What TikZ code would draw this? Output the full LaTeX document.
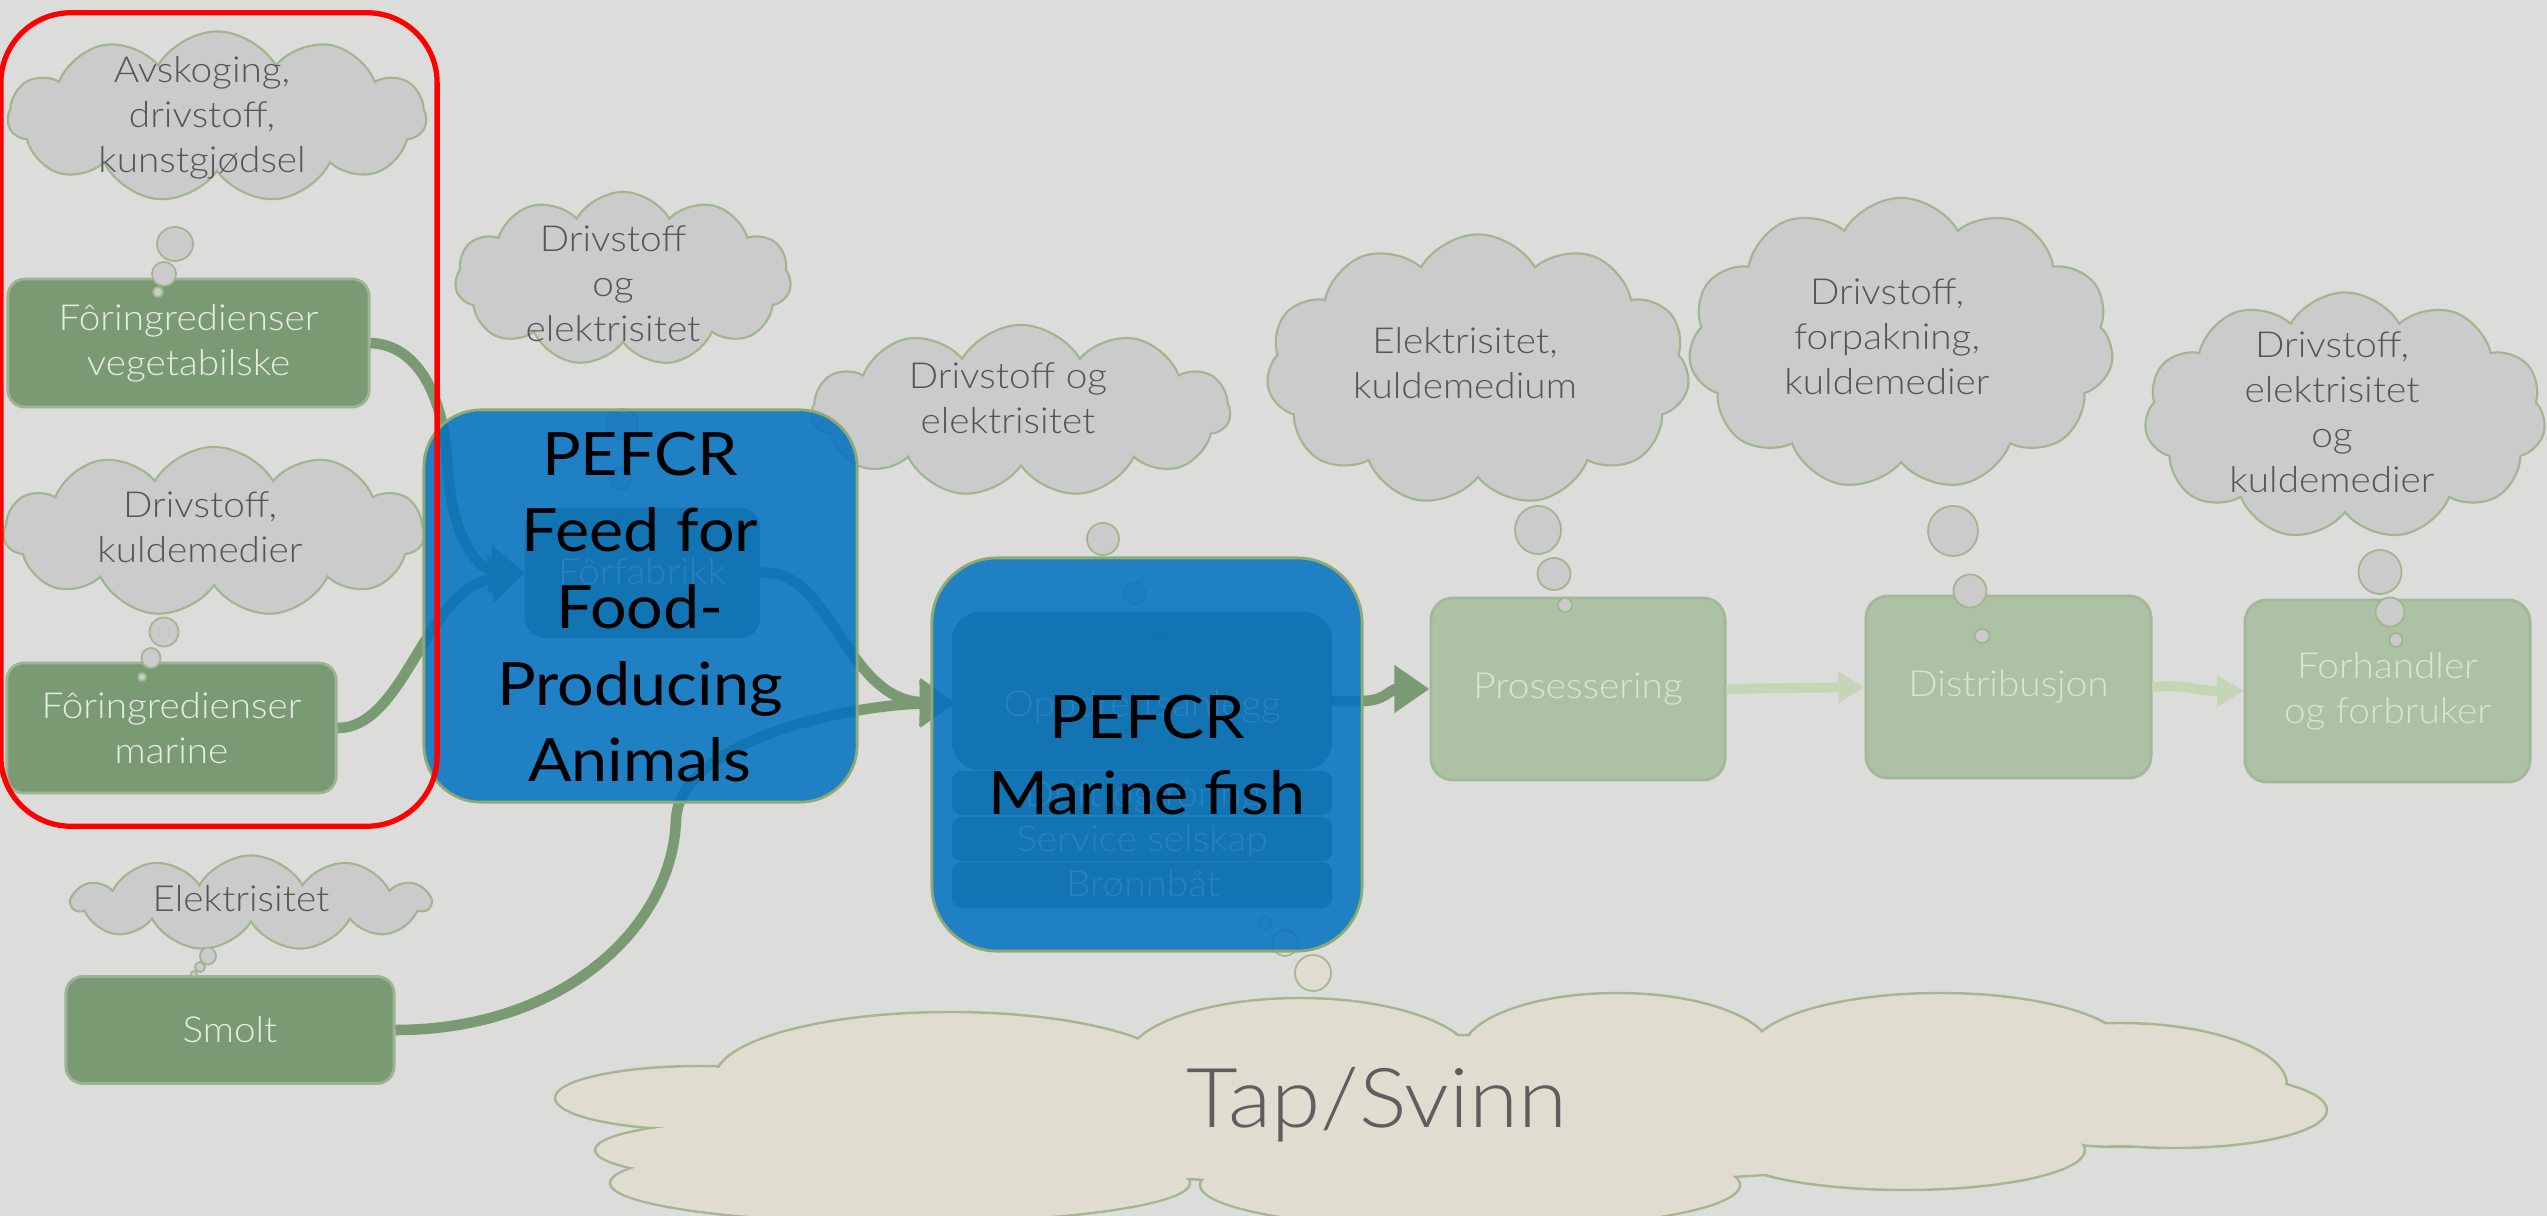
\documentclass[tikz,border=0pt]{standalone}
\usepackage{fontspec}
\setmainfont{Lato}[FakeStretch=1.08,UprightFont={* Light}]
\newfontfamily\pefcrfam{Lato}[FakeStretch=1.08]
\usetikzlibrary{shapes.symbols,shapes.geometric,arrows.meta}
\definecolor{bgc}{HTML}{DCDCDA}
\definecolor{cloudfill}{HTML}{CBCBCB}
\definecolor{cloudline}{HTML}{A0B68E}
\definecolor{ctxt}{HTML}{555555}
\definecolor{gfill}{HTML}{7A9A74}
\definecolor{gline}{HTML}{9DB394}
\definecolor{gtxt}{HTML}{E6ECE3}
\definecolor{ffill}{HTML}{ADC2A5}
\definecolor{fline}{HTML}{A2B898}
\definecolor{ftxt}{HTML}{DAE4D5}
\definecolor{lgreen}{HTML}{C4D6B6}
\definecolor{bfill}{HTML}{0070C1}
\definecolor{bline}{HTML}{8EA971}
\definecolor{rowfill}{HTML}{1072B1}
\definecolor{faint}{HTML}{2B80C2}
\definecolor{tapfill}{HTML}{E1DCD0}
\definecolor{tapline}{HTML}{A5B690}
\definecolor{taptxt}{HTML}{5E5E5E}
\newcommand\cldfont{\fontsize{10.2pt}{12.8pt}\selectfont}
\newcommand\pefcrfont{\pefcrfam\fontsize{17pt}{21.8pt}\selectfont}
\newcommand\tapfont{\fontsize{23.5pt}{28pt}\selectfont}
\begin{document}
\begin{tikzpicture}[x=0.01cm,y=-0.01cm,
  cloudsty/.style={cloud, cloud puffs=11, cloud puff arc=120, cloud ignores aspect, draw=cloudline, fill=cloudfill, line width=0.6pt, inner sep=0pt},
  bub/.style={ellipse, draw=cloudline, fill=cloudfill, line width=0.5pt, inner sep=0pt},
  ctext/.style={text=ctxt, font=\cldfont, align=center, inner sep=0pt},
  gbox/.style={rectangle, rounded corners=0.17cm, draw=gline, fill=gfill, line width=0.8pt, text=gtxt, font=\cldfont, align=center, inner sep=0pt},
  fbox/.style={gbox, draw=fline, fill=ffill, text=ftxt, rounded corners=0.22cm},
  conn/.style={draw=gfill, line width=3pt, -{Triangle[length=10pt,width=13pt]}},
  lconn/.style={draw=lgreen, line width=2.8pt, -{Triangle[length=7.5pt,width=8.5pt]}},
  bbox/.style={rectangle, draw=bline, fill=bfill, fill opacity=0.85, line width=0.8pt, inner sep=0pt},
  rowbox/.style={rectangle, fill=rowfill, fill opacity=0.85, inner sep=0pt, rounded corners=0.1cm},
  ftext/.style={text=faint, font=\cldfont, inner sep=0pt},
  ptext/.style={text=black, font=\pefcrfont, align=center, inner sep=0pt},
  tapbub/.style={ellipse, draw=tapline, fill=tapfill, line width=0.5pt, inner sep=0pt},
  redframe/.style={rectangle, draw=red, line width=1.5pt, rounded corners=0.7cm, inner sep=0pt}
]
\useasboundingbox (0,0) rectangle (2547,1216);
\begin{scope}
\clip (0,0) rectangle (2547,1216);
\fill[bgc] (0,0) rectangle (2547,1216);

% ---------- boxes ----------
\node[gbox, minimum width=3.61cm, minimum height=1.28cm] (veg) at (188.5,343) {Fôringredienser\\vegetabilske};
\node[gbox, minimum width=3.29cm, minimum height=1.30cm] (ming) at (171.5,728) {Fôringredienser\\marine};
\node[gbox, minimum width=3.28cm, minimum height=1.07cm] (smolt) at (230,1030) {Smolt};
\node[fbox, minimum width=2.94cm, minimum height=1.82cm] (proc) at (1578,689) {Prosessering};
\node[fbox, minimum width=2.85cm, minimum height=1.82cm] (dist) at (2008.5,687) {Distribusjon};
\node[fbox, minimum width=2.85cm, minimum height=1.82cm] (forh) at (2387.5,691) {Forhandler\\og forbruker};

\coordinate (forfabW) at (525,573);
\coordinate (forfabE) at (760,573);
\coordinate (mfin) at (955,703);
\coordinate (mfout) at (1330,701);

% ---------- connectors ----------
\draw[conn] (veg.east) .. controls (420,345) and (445,400) .. (448,470)
  .. controls (451,530) and (475,568) .. (forfabW);
\draw[conn] (ming.east) .. controls (405,728) and (425,590) .. (forfabW);
\draw[conn] (smolt.east) .. controls (560,1030) and (672,930) .. (676,820)
  .. controls (679,740) and (850,705) .. (mfin);
\draw[conn] (forfabE) .. controls (830,565) and (845,700) .. (mfin);
\draw[conn] (mfout) -- (1362,701) .. controls (1385,701) and (1390,689) .. (proc.west);
\draw[lconn] (proc.east) -- (dist.west);
\draw[lconn] (dist.east) .. controls (2190,684) and (2195,691) .. (forh.west);

% ---------- clouds ----------
\node[cloudsty, minimum width=4.18cm, minimum height=1.71cm] (c1) at (217,117) {};
\node[cloudsty, minimum width=4.20cm, minimum height=1.70cm] (c2) at (214,532) {};
\node[cloudsty, minimum width=3.57cm, minimum height=0.95cm] (c3) at (251,903) {};
\node[cloudsty, minimum width=3.36cm, minimum height=1.74cm] (c4) at (623,279) {};
\node[cloudsty, minimum width=4.18cm, minimum height=1.72cm] (c5) at (1021,411) {};
\node[cloudsty, minimum width=4.23cm, minimum height=2.71cm] (c6) at (1478,370) {};
\node[cloudsty, minimum width=4.25cm, minimum height=2.92cm] (c7) at (1901,344) {};
\node[cloudsty, minimum width=4.01cm, minimum height=2.47cm] (c8) at (2345,416) {};

\node[ctext] (t1) at (202,117.5) {Avskoging,\\drivstoff,\\kunstgjødsel};
\node[ctext] (t2) at (200,527) {Drivstoff,\\kuldemedier};
\node[ctext] (t3) at (241,898.5) {Elektrisitet};
\node[ctext] (t4) at (613,283.5) {Drivstoff\\og\\elektrisitet};
\node[ctext] (t5) at (1008,398) {Drivstoff og\\elektrisitet};
\node[ctext] (t6) at (1465,363) {Elektrisitet,\\kuldemedium};
\node[ctext] (t7) at (1887,336.5) {Drivstoff,\\forpakning,\\kuldemedier};
\node[ctext] (t8) at (2332,412.5) {Drivstoff,\\elektrisitet\\og\\kuldemedier};

% ---------- thought bubbles ----------
\node[bub, minimum width=0.36cm, minimum height=0.34cm] (b1a) at (175,244) {};
\node[bub, minimum width=0.24cm, minimum height=0.24cm] (b1b) at (164,274) {};
\node[bub, minimum width=0.10cm, minimum height=0.10cm] (b1c) at (158,292) {};
\node[bub, minimum width=0.29cm, minimum height=0.29cm] (b2a) at (164,632) {};
\node[bub, minimum width=0.19cm, minimum height=0.20cm] (b2b) at (151,658) {};
\node[bub, minimum width=0.08cm, minimum height=0.08cm] (b2c) at (142,677) {};
\node[bub, minimum width=0.16cm, minimum height=0.17cm] (b3a) at (208,956) {};
\node[bub, minimum width=0.10cm, minimum height=0.10cm] (b3b) at (200,967) {};
\node[bub, minimum width=0.06cm, minimum height=0.06cm] (b3c) at (194,974) {};
\node[bub, minimum width=0.32cm, minimum height=0.30cm] (b4a) at (622,424) {};
\node[bub, minimum width=0.20cm, minimum height=0.22cm] (b4b) at (621,479) {};
\node[bub, minimum width=0.08cm, minimum height=0.08cm] (b4c) at (619,520) {};
\node[bub, minimum width=0.32cm, minimum height=0.32cm] (b5a) at (1103,539) {};
\node[bub, minimum width=0.22cm, minimum height=0.22cm] (b5b) at (1135,593) {};
\node[bub, minimum width=0.08cm, minimum height=0.08cm] (b5c) at (1160,638) {};
\node[bub, minimum width=0.46cm, minimum height=0.48cm] (b6a) at (1538,530) {};
\node[bub, minimum width=0.33cm, minimum height=0.32cm] (b6b) at (1554,574) {};
\node[bub, minimum width=0.14cm, minimum height=0.14cm] (b6c) at (1565,605) {};
\node[bub, minimum width=0.50cm, minimum height=0.50cm] (b7a) at (1953,531) {};
\node[bub, minimum width=0.33cm, minimum height=0.33cm] (b7b) at (1970,591) {};
\node[bub, minimum width=0.15cm, minimum height=0.14cm] (b7c) at (1982,636) {};
\node[bub, minimum width=0.43cm, minimum height=0.44cm] (b8a) at (2380,572) {};
\node[bub, minimum width=0.29cm, minimum height=0.29cm] (b8b) at (2390,612) {};
\node[bub, minimum width=0.13cm, minimum height=0.14cm] (b8c) at (2396,640) {};
\node[tapbub, minimum width=0.36cm, minimum height=0.36cm] (b9a) at (1313,973) {};
\node[tapbub, minimum width=0.26cm, minimum height=0.26cm] (b9b) at (1285,943) {};
\node[tapbub, minimum width=0.12cm, minimum height=0.12cm] (b9c) at (1265,923) {};

% ---------- PEFCR boxes ----------
\node[bbox, rounded corners=0.57cm, minimum width=4.33cm, minimum height=3.92cm] (feed) at (640.5,606) {};
\node[bbox, rounded corners=0.65cm, minimum width=4.30cm, minimum height=3.93cm] (mfish) at (1147,754.5) {};

\node[rowbox, rounded corners=0.2cm, minimum width=2.35cm, minimum height=1.30cm] (forfab) at (642.5,573) {};
\node[ftext] (forfabt) at (642,572) {Fôrfabrikk};
\node[rowbox, rounded corners=0.28cm, minimum width=3.80cm, minimum height=1.58cm] (r1) at (1142,691) {};
\node[rowbox, minimum width=3.80cm, minimum height=0.44cm] (r2) at (1142,793) {};
\node[rowbox, minimum width=3.80cm, minimum height=0.44cm] (r3) at (1142,839) {};
\node[rowbox, minimum width=3.80cm, minimum height=0.46cm] (r4) at (1142,885) {};
\node[ftext] (r1t) at (1142,707) {Oppdrettsanlegg};
\node[ftext] (r2t) at (1143,797) {Drift og fôring};
\node[ftext] (r3t) at (1142,842) {Service selskap};
\node[ftext] (r4t) at (1143,884) {Brønnbåt};

\node[ptext] (feedt) at (640,607) {PEFCR\\Feed for\\Food-\\Producing\\Animals};
\node[ptext] (mfisht) at (1147,755) {PEFCR\\Marine fish};

% ---------- red frame ----------
\node[redframe, minimum width=4.36cm, minimum height=8.13cm] (frame) at (219,419.5) {};

% ---------- Tap/Svinn cloud (union of lobes) ----------
\def\taplobes{700/1098/145/32, 770/1150/175/30, 900/1183/290/40, 950/1078/235/66,
  1300/1063/175/65, 1617/1052/155/59, 1940/1052/190/59, 2120/1085/167/62,
  2175/1110/152/38, 1905/1150/180/40, 1470/1185/270/45, 1440/1110/650/75}
\foreach \cx/\cy/\rx/\ry in \taplobes
  \draw[draw=tapline, line width=0.7pt, fill=tapfill] (\cx,\cy) ellipse [x radius=\rx*0.01cm, y radius=\ry*0.01cm];
\foreach \cx/\cy/\rx/\ry in \taplobes
  \fill[tapfill] (\cx,\cy) ellipse [x radius=\rx*0.01cm-0.5pt, y radius=\ry*0.01cm-0.5pt];
\node[text=taptxt, font=\tapfont, inner sep=0pt] (tapt) at (1377,1105) {Tap/Svinn};
\end{scope}
\end{tikzpicture}
\end{document}
